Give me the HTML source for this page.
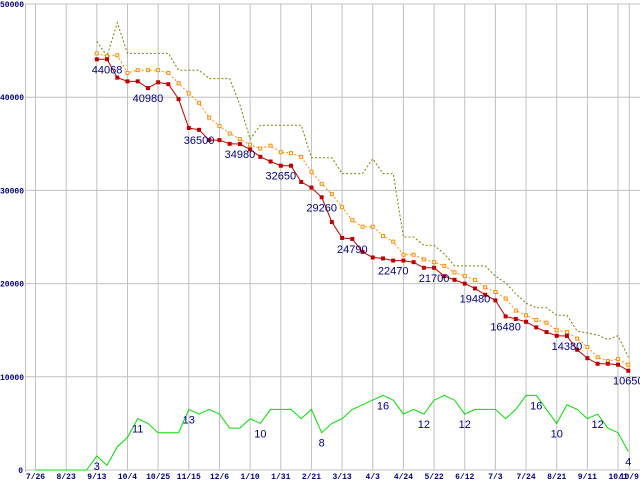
<!DOCTYPE html>
<html><head><meta charset="utf-8"><style>
html,body{margin:0;padding:0;background:#fff;width:640px;height:480px;overflow:hidden}
svg{display:block}
</style></head><body>
<svg id="chart" width="640" height="480" xmlns="http://www.w3.org/2000/svg"></svg>
<script>
const xTickLabels = ["7/26","8/23","9/13","10/4","10/25","11/15","12/6","1/10","1/31","2/21","3/13","4/3","4/24","5/22","6/12","7/3","7/24","8/21","9/11","10/1","10/9"];
const xTickWeeks = [0,3,6,9,12,15,18,21,24,27,30,33,36,39,42,45,48,51,54,57,58.1];
const yTicks = [0,10000,20000,30000,40000,50000];
const redStart = 6;
const redValues = [44068,44068,42100,41700,41700,40980,41600,41400,39800,36700,36500,35400,35400,35000,34980,34400,33600,33100,32650,32650,30900,30300,29260,26600,24900,24790,23400,22800,22700,22470,22470,22300,21700,21700,20800,20400,20000,19480,18800,18200,16480,16200,15900,15300,14800,14400,14380,12900,12000,11400,11400,11300,10650];
const orangeValues = [44700,44400,44500,42600,42900,42900,42900,42600,41500,40400,39400,37800,36900,36100,35500,34900,34500,34800,34100,34000,33600,32000,30700,29600,28200,26800,26100,26100,25100,24500,23100,23100,22600,22300,21900,21200,20800,20400,19600,19100,18400,17100,16600,16100,15800,15000,14800,14100,13200,12100,11700,11900,11300];
const oliveValues = [46000,44400,48000,44700,44700,44700,44700,44700,42900,42900,42900,42000,42000,42000,39200,35500,37000,37000,37000,37000,37000,33500,33500,33500,31800,31800,31800,33400,31800,31800,25000,25000,24100,24100,23200,21900,21900,21900,21900,20800,20100,18900,17900,17400,17400,16600,16600,14900,14700,14500,14000,14400,12100];
const greenCounts = [0,0,0,0,0,0,3,1,5,7,11,10,8,8,8,13,12,13,12,9,9,11,10,13,13,13,11,13,8,10,11,13,14,15,16,15,12,13,12,15,16,15,12,13,13,13,11,13,16,16,13,10,14,13,11,12,9,8,4];
const redLabelIdx = [1,5,10,14,18,22,25,29,33,37,40,46,52];
const greenLabelIdx = [6,10,15,22,28,34,38,42,49,51,55,58];
const greenUnit = 500;

const NS = "http://www.w3.org/2000/svg";
const svg = document.getElementById('chart');
const X0 = 35.5, XW = 10.22, Y0 = 470, YS = 466/50000;
const x = i => X0 + XW * i;
const y = v => Y0 - v * YS;
function el(tag, attrs, parent) {
  const e = document.createElementNS(NS, tag);
  for (const k in attrs) e.setAttribute(k, attrs[k]);
  (parent || svg).appendChild(e);
  return e;
}
// grid
const grid = el('g', {});


el('line', {x1:25.5,y1:4,x2:25.5,y2:472,stroke:'#c0c0c0','stroke-width':1}, grid);
yTicks.forEach(v => {
  const l = el('line', {x1:25, y1:y(v), x2:640, y2:y(v), stroke:'#c0c0c0','stroke-width':1}, grid);
  
  
  const t = el('text', {x:v===0?23:0, y:y(v)+3, 'font-family':'Liberation Mono, monospace','font-size':8,'font-weight':'bold',fill:'#000080','text-anchor':v===0?'end':'start'});
  t.textContent = String(v);
  
  
});
xTickWeeks.forEach((w, k) => {
  const l = el('line', {x1:x(w), y1:4, x2:x(w), y2:470, stroke:'#c0c0c0','stroke-width':1}, grid);
  
  
  const t = el('text', {x:x(w), y:479, 'font-family':'Liberation Mono, monospace','font-size':8,'font-weight':'bold',fill:'#000080','text-anchor':'middle'});
  t.textContent = xTickLabels[k];
  
  
});
function pts(vals, start, scale) {
  return vals.map((v, i) => x(start + i).toFixed(1) + ',' + y(v * scale).toFixed(1)).join(' ');
}
// olive
const olive = el('polyline', {points:pts(oliveValues, redStart, 1), fill:'none', stroke:'#808000','stroke-width':1,'stroke-dasharray':'2,2'});


// green
const green = el('polyline', {points:pts(greenCounts, 0, greenUnit), fill:'none', stroke:'#00e000','stroke-width':1});


// orange
const orange = el('polyline', {points:pts(orangeValues, redStart, 1), fill:'none', stroke:'#ff8c00','stroke-width':1,'stroke-dasharray':'2,2'});


orangeValues.forEach((v, i) => {
  const r = el('rect', {x:x(redStart+i)-1.5, y:y(v)-1.5, width:3, height:3, fill:'#fff', stroke:'#ff8c00','stroke-width':1});
  
  
});
// red
const red = el('polyline', {points:pts(redValues, redStart, 1), fill:'none', stroke:'#c00000','stroke-width':1});


redValues.forEach((v, i) => {
  const r = el('rect', {x:x(redStart+i)-2, y:y(v)-2, width:4, height:4, fill:'#c00000'});
  
  
});
redLabelIdx.forEach(i => {
  const t = el('text', {x:x(redStart+i), y:y(redValues[i])+14, 'font-family':'Liberation Sans, sans-serif','font-size':11,fill:'#000080','text-anchor':'middle'});
  t.textContent = String(redValues[i]);
  
  
});
greenLabelIdx.forEach(i => {
  const t = el('text', {x:x(i), y:y(greenCounts[i]*greenUnit)+14, 'font-family':'Liberation Sans, sans-serif','font-size':11,fill:'#000080','text-anchor':'middle'});
  t.textContent = String(greenCounts[i]);
  
  
});
</script>
</body></html>
